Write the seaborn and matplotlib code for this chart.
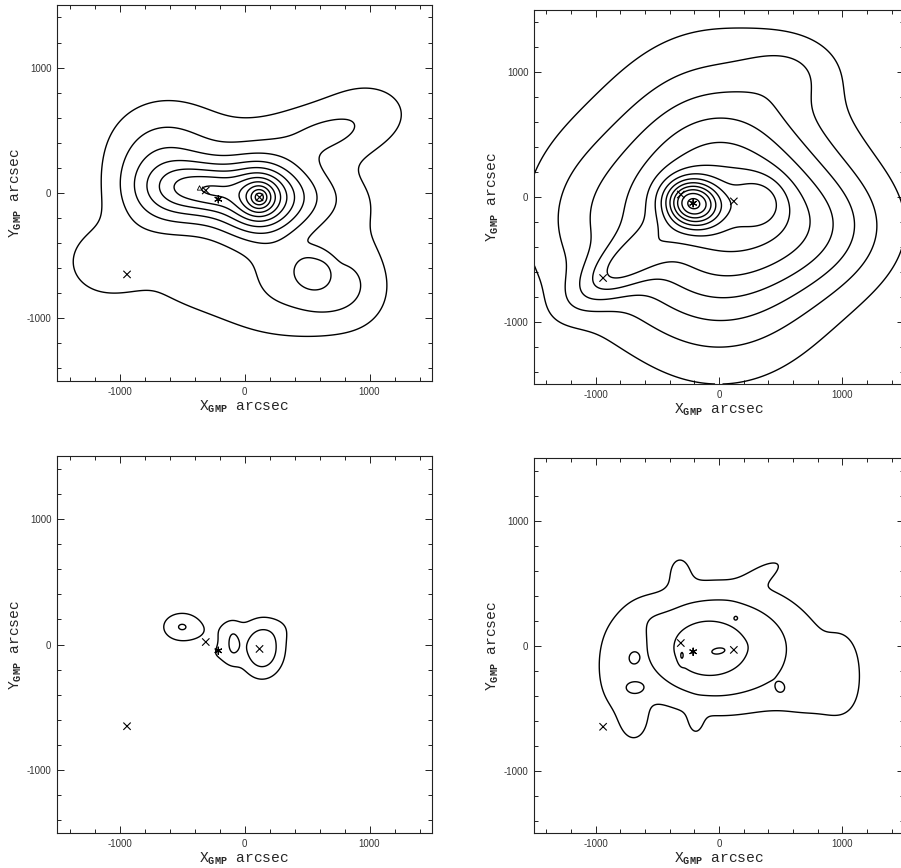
import numpy as np
import pandas as pd
import matplotlib
matplotlib.use("Agg")
import matplotlib.pyplot as plt
from matplotlib.ticker import MultipleLocator
import seaborn as sns

sns.set_style("ticks")
plt.rcParams["font.family"] = ["Liberation Sans", "DejaVu Sans"]
plt.rcParams["axes.unicode_minus"] = False
plt.rcParams["mathtext.fontset"] = "custom"
plt.rcParams["mathtext.rm"] = "Liberation Mono"
plt.rcParams["mathtext.bf"] = "Liberation Mono:bold"

# marked sources, arcsec (same in all four maps)
src_x = [-940, -310, 120, -210]
src_y = [-650, 20, -35, -50]
src_kind = ["x", "x", "x", "star"]
tri_x = [-360]
tri_y = [40]

# each map = sum of smooth blobs: centre, peak, widths, profile exponent, tilt
# top left
a_cx = [120, 120, -660, -400, -650, 620, 1000, 547, 300, 650, -1150, 950, -550, -240, 250]
a_cy = [-35, -35, 40, 50, 420, 470, 650, -603, -900, -750, -550, -550, -760, 10, -620]
a_amp = [9.5, 2.5, 2.5, 2.2, 1.2, 1.3, 1.3, 1.1, 1.1, 1.4, 1.4, 0.7, 0.5, 0.6, 0.6]
a_sx = [230, 500, 280, 220, 380, 280, 300, 120, 600, 250, 250, 200, 330, 110, 150]
a_sy = [240, 190, 300, 130, 320, 160, 220, 120, 300, 200, 230, 350, 180, 90, 180]
a_pw = [1, 2, 2, 2, 2, 2, 2, 4, 2, 2, 2, 2, 2, 2, 2]
a_ang = [0, 0, 0, 0, 0, 0, 0, 0, 0, 0, 0, 0, 0, 0, 0]
a_levels = [1, 2, 3, 4, 5, 6, 7, 8, 9, 10, 11]

# top right
b_cx = [-215, 0, 330, -820, 850, 600, -1100]
b_cy = [-50, -80, -30, -580, -250, 1020, -200]
b_amp = [7.1, 6.3, 1.6, 2.5, 2.0, 1.0, 1.5]
b_sx = [153, 620, 150, 320, 450, 280, 400]
b_sy = [126, 740, 140, 130, 350, 200, 500]
b_pw = [2, 2, 2, 2, 2, 2, 2]
b_ang = [-12, 0, 0, 35, 0, 0, 0]
b_levels = [1, 2, 3, 4, 5, 6, 7, 8, 9, 10, 11, 12, 13]

# bottom left
c_cx = [-500, 140, -95, -240, 320, -150]
c_cy = [140, -32, 0, -80, 140, 140]
c_amp = [2.05, 2.9, 1.35, 0.9, 0.4, 0.65]
c_sx = [122, 128, 52, 100, 90, 100]
c_sy = [90, 167, 110, 120, 80, 80]
c_pw = [2, 2, 2, 2, 2, 2]
c_ang = [0, 0, 0, 0, 0, 0]
c_levels = [1, 2]

# bottom right
d_cx = [50, 0, -130, 20, -302, -690, -675, 500, 138,
        -320, 370, 1020, -850, -690, -190, 760, -620, -800]
d_cy = [-30, -10, -20, -42, -82, -100, -340, -345, 225,
        620, 590, -250, -100, -640, -620, -450, 250, -380]
d_amp = [1.6, 1.1, 1.0, 0.55, 0.95, 0.6, 1.1, 0.6, 0.45,
         0.8, 0.9, 0.8, 0.6, 0.9, 0.7, 0.6, 0.5, 0.5]
d_sx = [700, 480, 250, 90, 16, 35, 61, 35, 22,
        80, 150, 130, 110, 100, 50, 220, 130, 150]
d_sy = [410, 360, 210, 38, 40, 43, 40, 38, 22,
        110, 55, 280, 250, 140, 90, 150, 120, 200]
d_pw = [2, 4, 2, 2, 2, 2, 2, 2, 2,
        2, 2, 2, 2, 2, 2, 2, 2, 2]
d_ang = [0, 0, 0, 10, 0, 0, 0, 0, 0,
         0, 30, 0, 0, 0, 0, 0, 0, 0]
d_levels = [1, 2, 3, 4]

grid = np.linspace(-1500, 1500, 401)
GX, GY = np.meshgrid(grid, grid)


def build_map(cx, cy, amp, sx, sy, pw, ang):
    z = np.zeros_like(GX)
    for x0, y0, a, s1, s2, p, t in zip(cx, cy, amp, sx, sy, pw, ang):
        t = np.deg2rad(t)
        dx, dy = GX - x0, GY - y0
        u = dx * np.cos(t) + dy * np.sin(t)
        v = -dx * np.sin(t) + dy * np.cos(t)
        q = np.hypot(u / s1, v / s2)
        z += a * np.exp(-q ** p / p)
    return z


def style_axes(ax):
    ax.set_xlim(-1500, 1500)
    ax.set_ylim(-1500, 1500)
    ax.set_xticks([-1000, 0, 1000])
    ax.set_yticks([-1000, 0, 1000])
    ax.xaxis.set_minor_locator(MultipleLocator(200))
    ax.yaxis.set_minor_locator(MultipleLocator(200))
    ax.tick_params(which="both", direction="in", top=True, right=True,
                   width=0.7, color="#222222")
    ax.tick_params(which="major", length=5, labelsize=7, pad=4,
                   labelcolor="#333333")
    ax.tick_params(which="minor", length=3)
    for sp in ax.spines.values():
        sp.set_linewidth(0.8)
        sp.set_color("#222222")
    ax.set_xlabel(r"$\mathrm{X}_{\mathbf{GMP}}$ arcsec", family="Liberation Mono",
                  fontsize=10.5, labelpad=1)
    ax.set_ylabel(r"$\mathrm{Y}_{\mathbf{GMP}}$ arcsec", family="Liberation Mono",
                  fontsize=10.5, labelpad=2)


src = pd.DataFrame({"x": src_x, "y": src_y, "kind": src_kind})

fig = plt.figure(figsize=(9.01, 8.68), dpi=100)
rects = [
    [0.0633, 0.5611, 0.4162, 0.4332],
    [0.5927, 0.5576, 0.4107, 0.4309],
    [0.0633, 0.0403, 0.4162, 0.4343],
    [0.5927, 0.0403, 0.4107, 0.4320],
]
maps = [
    (a_cx, a_cy, a_amp, a_sx, a_sy, a_pw, a_ang, a_levels),
    (b_cx, b_cy, b_amp, b_sx, b_sy, b_pw, b_ang, b_levels),
    (c_cx, c_cy, c_amp, c_sx, c_sy, c_pw, c_ang, c_levels),
    (d_cx, d_cy, d_amp, d_sx, d_sy, d_pw, d_ang, d_levels),
]

for i, (rect, m) in enumerate(zip(rects, maps)):
    ax = fig.add_axes(rect)
    z = build_map(*m[:7])
    ax.contour(GX, GY, z, levels=m[7], colors="black", linewidths=1.0)
    sns.scatterplot(data=src, x="x", y="y", style="kind",
                    markers={"x": "x", "star": (6, 2, 0)},
                    color="black", s=28, linewidth=0.8, legend=False, ax=ax)
    if i == 0:
        sns.scatterplot(x=tri_x, y=tri_y, marker="^", s=10, color="black",
                        facecolor="none", edgecolor="black", linewidth=0.6,
                        legend=False, ax=ax)
    style_axes(ax)

fig.savefig("out.png", dpi=100)
